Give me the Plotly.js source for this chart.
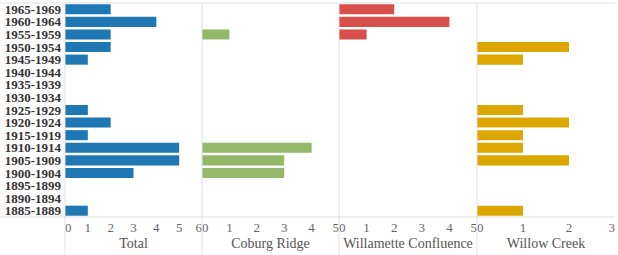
<!DOCTYPE html>
<html>
<head>
<meta charset="utf-8">
<script src="https://cdn.plot.ly/plotly-3.0.1.min.js"></script>
<style>html,body{margin:0;padding:0;background:#fff}#chart{width:618px;height:255px}</style>
</head>
<body>
<div id="chart"></div>
<script>
// Five-year periods, listed top to bottom
const periods = ["1965-1969","1960-1964","1955-1959","1950-1954","1945-1949","1940-1944","1935-1939","1930-1934","1925-1929","1920-1924","1915-1919","1910-1914","1905-1909","1900-1904","1895-1899","1890-1894","1885-1889"];

// Counts per period for each panel
const total        = [2,4,2,2,1,0,0,0,1,2,1,5,5,3,0,0,1];
const coburgRidge  = [0,0,1,0,0,0,0,0,0,0,0,4,3,3,0,0,0];
const willamette   = [2,4,1,0,0,0,0,0,0,0,0,0,0,0,0,0,0];
const willowCreek  = [0,0,0,2,1,0,0,0,1,2,1,1,2,0,0,0,1];

const panelNames = ["Total","Coburg Ridge","Willamette Confluence","Willow Creek"];
const panelRanges = [6,5,5,3];
const panelColors = ["#1f77b4","#93b86a","#d94f4c","#dca700"];
const panelData = [total, coburgRidge, willamette, willowCreek];

const W = 550;
const edges = [0, 137/W, 274/W, 412/W, 1];

const serif = "Liberation Serif, Times New Roman, serif";
const NB = "\u00a0";
const traces = [];
const orderBottomUp = periods.slice().reverse();
const layout = {
  width: 618, height: 255,
  margin: {l: 65, r: 3, t: 3, b: 38},
  paper_bgcolor: "#fff", plot_bgcolor: "#fff",
  showlegend: false,
  bargap: 0.2,
  yaxis: {
    type: "category",
    categoryorder: "array",
    categoryarray: orderBottomUp,
    tickmode: "array",
    tickvals: orderBottomUp,
    ticktext: orderBottomUp,
    showgrid: false, zeroline: false, showline: false,
    ticks: "",
    tickfont: {family: serif, size: 13, color: "#333", weight: "bold"},
    ticklabelstandoff: 3,
    fixedrange: true
  },
  shapes: [],
  font: {family: serif}
};

panelData.forEach((vals, i) => {
  const ax = i === 0 ? "x" : "x" + (i + 1);
  const axKey = i === 0 ? "xaxis" : "xaxis" + (i + 1);
  const xs = [], ys = [];
  vals.forEach((v, k) => { if (v > 0) { xs.push(v); ys.push(periods[k]); } });
  traces.push({
    type: "bar", orientation: "h",
    x: xs, y: ys, xaxis: ax, yaxis: "y",
    marker: {color: panelColors[i]},
    hoverinfo: "x+y"
  });
  const tv = [], tt = [];
  for (let t = 0; t <= panelRanges[i]; t++) {
    tv.push(t);
    // edge labels are nudged inward so neighbouring panels don't collide
    if (t === 0) tt.push(NB + NB + t);
    else if (t === panelRanges[i]) tt.push(t + NB + NB);
    else tt.push(String(t));
  }
  layout[axKey] = {
    domain: [edges[i], edges[i + 1]],
    range: [0, panelRanges[i]],
    anchor: "y",
    showgrid: false, zeroline: false, showline: false,
    tickmode: "array", tickvals: tv, ticktext: tt,
    ticks: "",
    ticklabelstandoff: 1,
    ticklabeloverflow: "allow",
    tickfont: {family: serif, size: 13, color: "#666"},
    title: {text: panelNames[i], font: {family: serif, size: 14, color: "#555"}, standoff: 4},
    fixedrange: true
  };
});

// Panel dividers running from the top edge down past the axis titles
edges.slice(0, 4).forEach(e => {
  layout.shapes.push({
    type: "line", xref: "paper", yref: "paper",
    x0: e, x1: e, y0: -38/214, y1: 1,
    line: {color: "#e2e2e2", width: 1}
  });
});
// Top border and baseline across the full width
[1, 0].forEach(y => {
  layout.shapes.push({
    type: "line", xref: "paper", yref: "paper",
    x0: -65/W, x1: 1, y0: y, y1: y,
    line: {color: "#e2e2e2", width: 1}
  });
});

Plotly.newPlot("chart", traces, layout, {staticPlot: true, displayModeBar: false});
</script>
</body>
</html>
